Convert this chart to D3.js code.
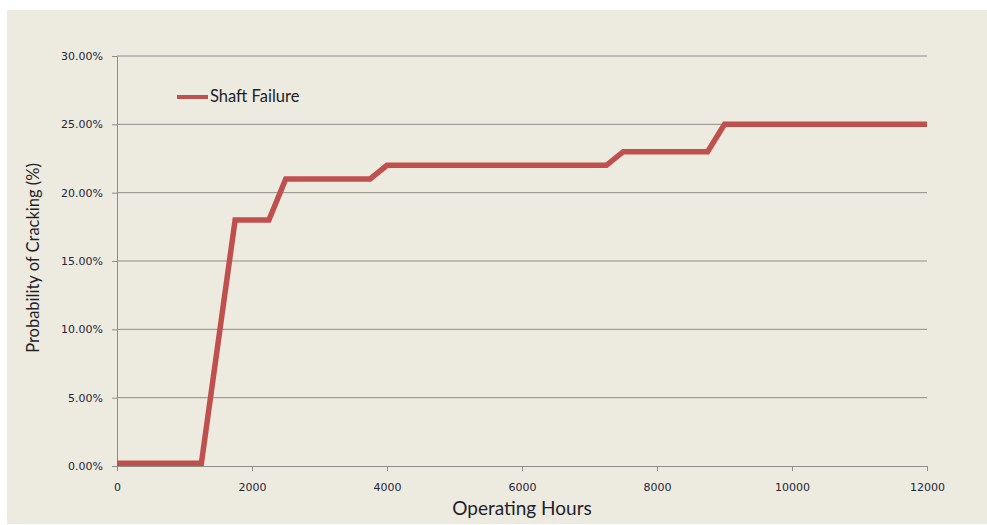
<!DOCTYPE html>
<html>
<head>
<meta charset="utf-8">
<script src="https://cdn.jsdelivr.net/npm/d3@7"></script>
<style>
  body { margin: 0; background: #fff; }
  svg { display: block; }
  .tick text { font-family: "DejaVu Sans", sans-serif; font-size: 11px; fill: #262636; }
</style>
</head>
<body>
<svg id="chart"></svg>
<script>
// hours vs probability of cracking (%)
const hours = [0, 1250, 1750, 2250, 2500, 3750, 4000, 7250, 7500, 8750, 9000, 12000];
const probability = [0.2, 0.2, 18, 18, 21, 21, 22, 22, 23, 23, 25, 25];
const seriesName = "Shaft Failure";
const xTicks = [0, 2000, 4000, 6000, 8000, 10000, 12000];
const yTicks = [0, 5, 10, 15, 20, 25, 30];

const w = 987;
const h = 525;
const margin = { top: 56, right: 60, bottom: 59, left: 117 };

const svg = d3.select("#chart").attr("width", w).attr("height", h);

// chart panel
svg.append("rect")
  .attr("x", 7).attr("y", 10)
  .attr("width", w - 7).attr("height", h - 11)
  .attr("fill", "#edeae0");

const x = d3.scaleLinear().domain([0, 12000]).range([margin.left, w - margin.right]);
const y = d3.scaleLinear().domain([0, 30]).range([h - margin.bottom, margin.top]);

// gridlines
svg.append("g")
  .selectAll("line")
  .data(yTicks.filter(d => d > 0))
  .enter()
  .append("line")
  .attr("x1", x(0)).attr("x2", x(12000))
  .attr("y1", d => y(d)).attr("y2", d => y(d))
  .attr("stroke", "#8f8d88")
  .attr("stroke-width", 1);

const yAxis = svg.append("g")
  .attr("transform", `translate(${x(0)},0)`)
  .call(d3.axisLeft(y).tickValues(yTicks).tickSize(5).tickPadding(9)
    .tickFormat(d => d.toFixed(2) + "%"));

const xAxis = svg.append("g")
  .attr("transform", `translate(0,${y(0)})`)
  .call(d3.axisBottom(x).tickValues(xTicks).tickSize(5).tickPadding(12)
    .tickFormat(d3.format("d")));

[yAxis, xAxis].forEach(g => {
  g.select(".domain").attr("stroke", "#8f8d88");
  g.selectAll(".tick line").attr("stroke", "#8f8d88");
});

// series
const line = d3.line()
  .x((d, i) => x(hours[i]))
  .y(d => y(d));

svg.append("path")
  .datum(probability)
  .attr("d", line)
  .attr("fill", "none")
  .attr("stroke", "#c0504d")
  .attr("stroke-width", 5.5)
  .attr("stroke-linejoin", "miter");

// legend
svg.append("line")
  .attr("x1", 177).attr("x2", 208)
  .attr("y1", 97).attr("y2", 97)
  .attr("stroke", "#c0504d")
  .attr("stroke-width", 4);

svg.append("text")
  .attr("x", 210).attr("y", 102)
  .attr("font-family", "Lato, sans-serif")
  .attr("font-size", 16.5)
  .attr("fill", "#1f1f2a")
  .text(seriesName);

// axis titles
svg.append("text")
  .attr("x", 522).attr("y", 515)
  .attr("text-anchor", "middle")
  .attr("font-family", "Lato, sans-serif")
  .attr("font-size", 19)
  .attr("fill", "#1f1f2a")
  .text("Operating Hours");

svg.append("text")
  .attr("transform", "translate(39,258) rotate(-90)")
  .attr("text-anchor", "middle")
  .attr("font-family", "Lato, sans-serif")
  .attr("font-size", 16.5)
  .attr("fill", "#1f1f2a")
  .text("Probability of Cracking (%)");
</script>
</body>
</html>
